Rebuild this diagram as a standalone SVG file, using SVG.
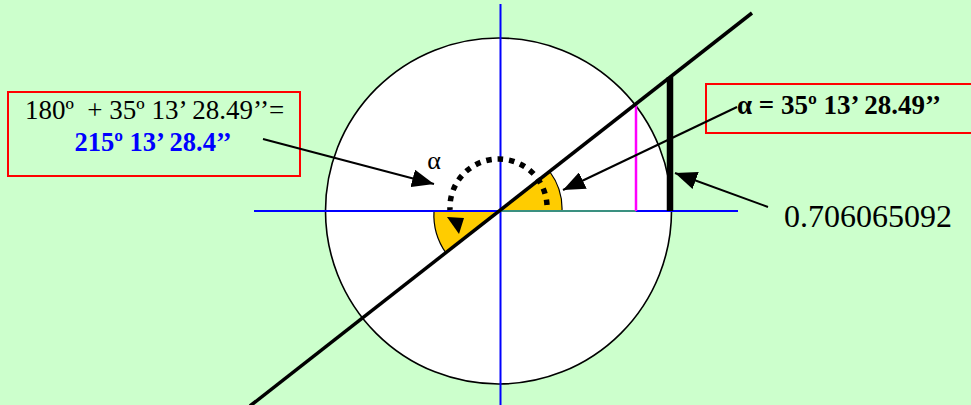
<svg xmlns="http://www.w3.org/2000/svg" width="971" height="405" viewBox="0 0 971 405">
<style>
.lbl{font-family:"Liberation Serif","Times New Roman",serif;fill:#000;white-space:pre}
.box{fill:none;stroke:#ff0000;stroke-width:2}
.axis{stroke:#0000ff;stroke-width:2;fill:none}
.ptr{stroke:#000;stroke-width:2;fill:none;marker-end:url(#ah)}
.wedge{fill:#ffcc00;stroke:#000;stroke-width:1.2}
</style>
<defs>
<marker id="ah" markerUnits="userSpaceOnUse" markerWidth="24" markerHeight="18" refX="22" refY="9" orient="auto">
<path d="M0,0 L22,9 L0,18 Z" fill="#000"/>
</marker>
</defs>
<rect width="971" height="405" fill="#ccffcc"/>
<g id="circle">
<circle cx="498.5" cy="211" r="173" fill="#fff" stroke="#000" stroke-width="1.6"/>
</g>
<g id="wedges">
<path class="wedge" d="M500,211 L562,211 A62,62 0 0 0 550,172 Z"/>
<path class="wedge" d="M500,211 L434,211 A66,66 0 0 0 446,253 Z"/>
</g>
<g id="axes">
<line class="axis" x1="254" y1="211" x2="738" y2="211"/>
<line class="axis" x1="500.5" y1="4" x2="500.5" y2="405"/>
<line x1="500" y1="211" x2="636" y2="211" stroke="#3a9080" stroke-width="2.2"/>
</g>
<g id="sine">
<line x1="636" y1="104" x2="636" y2="211" stroke="#ff00ff" stroke-width="2.5"/>
</g>
<g id="tangent">
<line x1="670" y1="77" x2="670" y2="211" stroke="#000" stroke-width="6.5"/>
</g>
<g id="diagonal">
<line x1="250" y1="406" x2="752" y2="13" stroke="#000" stroke-width="3.5"/>
</g>
<g id="dotted-arc">
<path d="M547,205 A48.5,48.5 0 0 0 450,210" fill="none" stroke="#000" stroke-width="5.5" stroke-dasharray="5.5 6"/>
<path d="M447,217 L464,218 L459,234 Z" fill="#000"/>
</g>
<g id="label-alpha">
<text class="lbl" x="434" y="169" font-size="26" text-anchor="middle">α</text>
</g>
<g id="box-left">
<rect class="box" x="8" y="92" width="292" height="84"/>
<text class="lbl" x="25" y="119" font-size="27" xml:space="preserve">180º  + 35º 13’ 28.49’’=</text>
<text class="lbl" x="153" y="151" font-size="26.5" font-weight="bold" text-anchor="middle" style="fill:#0000ff">215º 13’ 28.4’’</text>
</g>
<g id="box-right">
<rect class="box" x="706" y="84" width="275" height="49"/>
<text class="lbl" x="737" y="114" font-size="27" font-weight="bold">α = 35º 13’ 28.49’’</text>
</g>
<g id="value">
<text class="lbl" x="784" y="227" font-size="32">0.706065092</text>
</g>
<g id="connectors">
<line class="ptr" x1="263" y1="139" x2="434" y2="184"/>
<line class="ptr" x1="737" y1="107" x2="563" y2="190"/>
<line class="ptr" x1="768" y1="207" x2="675" y2="173"/>
</g>
</svg>
